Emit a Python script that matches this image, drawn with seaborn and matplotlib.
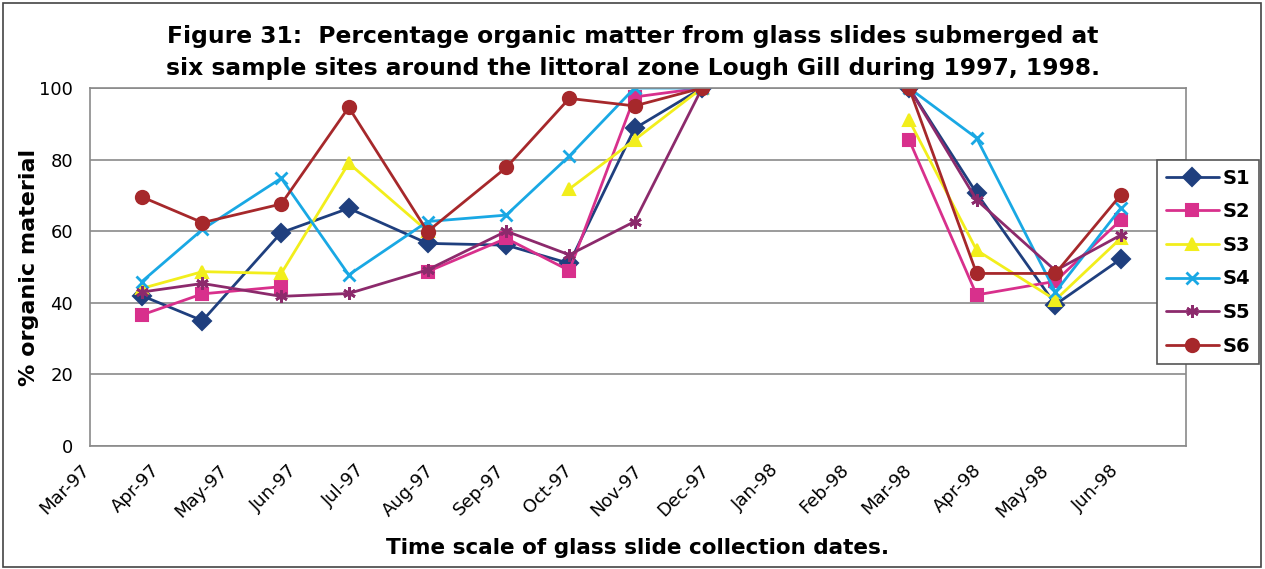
import matplotlib
matplotlib.use("Agg")
import matplotlib.pyplot as plt
import matplotlib.dates as mdates
import matplotlib.transforms as mtransforms
from matplotlib.patches import Rectangle
from matplotlib.lines import Line2D
from matplotlib.ticker import FuncFormatter
import numpy as np
import pandas as pd
import seaborn as sns

# ---- data -------------------------------------------------------------
dates = ["1997-03-24", "1997-04-20", "1997-05-25", "1997-06-24", "1997-07-29",
         "1997-09-02", "1997-09-30", "1997-10-29", "1997-11-28", "1998-01-15",
         "1998-02-28", "1998-03-30", "1998-05-04", "1998-06-02"]
S1 = [42, 35, 59.6, 66.4, 56.6, 56.1, 51, 88.7, 100, None, 100, 70.6, 39.5, 52.2]
S2 = [36.6, 42.5, 44.5, None, 48.7, 58, 49, 97.5, 100, None, 85.5, 42.2, 46, 63.1]
S3 = [44, 48.7, 48.2, 79, 60, None, 71.8, 85.5, 100, None, 91, 54.7, 40.8, 58]
S4 = [45.9, 60.5, 74.8, 47.8, 62.7, 64.5, 81, 100, 100, None, 100, 86, 43, 66.4]
S5 = [43, 45.4, 41.8, 42.6, 49.2, 60, 53.4, 62.7, 100, None, 100, 68.7, 49, 58.9]
S6 = [69.6, 62.4, 67.6, 94.6, 59.9, 77.8, 97.1, 95, 100, None, 100, 48.2, 48.2, 70.1]
series_names = ["S1", "S2", "S3", "S4", "S5", "S6"]
series_values = [S1, S2, S3, S4, S5, S6]
colors = ["#1f3f7e", "#d8308c", "#f2ee1c", "#19a8e4", "#8c2a6c", "#a6282b"]
markers = ["D", "s", "^", "x", (6, 2, 0), "o"]
last_label = "1998-06-01"
title = ("Figure 31:  Percentage organic matter from glass slides submerged at\n"
         "six sample sites around the littoral zone Lough Gill during 1997, 1998.")
xlabel = "Time scale of glass slide collection dates."
ylabel = "% organic material"

# ---- long-form table with segments (blank cells break the line) -------
rows = []
for name, vals in zip(series_names, series_values):
    seg = 0
    prev_missing = False
    for d, v in zip(dates, vals):
        if v is None:
            prev_missing = True
            continue
        if prev_missing:
            seg += 1
            prev_missing = False
        rows.append({"date": pd.Timestamp(d), "value": v, "site": name,
                     "seg": f"{name}-{seg}"})
df = pd.DataFrame(rows)

sns.set_style("white")
plt.rcParams["font.family"] = ["DejaVu Sans"]
plt.rcParams["text.color"] = "black"
plt.rcParams["axes.labelcolor"] = "black"

fig = plt.figure(figsize=(12.65, 5.69), dpi=100)
ax = fig.add_axes([0.0711, 0.2162, 0.9375 - 0.0711, 0.8453 - 0.2162])

handles = []
for name, col, mk in zip(series_names, colors, markers):
    sub = df[df["site"] == name]
    n_before = len(ax.lines)
    ms = 9.5 if mk == "o" else 9
    sns.lineplot(data=sub, x="date", y="value", units="seg", estimator=None,
                 sort=True, color=col, marker=mk, linewidth=2, markersize=ms,
                 ax=ax, legend=False)
    mew = 2 if mk == "x" or mk == (6, 2, 0) else 1.5
    for ln in ax.lines[n_before:]:
        ln.set_markeredgecolor(col)
        ln.set_markerfacecolor(col)
        ln.set_markeredgewidth(mew)
    handles.append(Line2D([], [], color=col, marker=mk, linewidth=2,
                          markersize=ms, markeredgecolor=col,
                          markerfacecolor=col, markeredgewidth=mew))

leg = fig.legend(handles, series_names, loc="upper left",
                 bbox_to_anchor=(0.915, 0.719), frameon=True, fancybox=False,
                 edgecolor="#555555", framealpha=1,
                 prop={"weight": "bold", "size": 14},
                 handlelength=2.7, handletextpad=0.2, labelspacing=0.75,
                 borderpad=0.45, borderaxespad=0)
leg.get_frame().set_linewidth(1.2)

# axes styling
ax.set_ylim(0, 100)
ax.set_yticks([0, 20, 40, 60, 80, 100])
ax.set_xlim(pd.Timestamp("1997-03-01"), pd.Timestamp("1998-07-01"))
ax.xaxis.set_major_locator(mdates.MonthLocator(bymonthday=1))
ax.xaxis.set_minor_locator(mdates.MonthLocator(bymonthday=16))
limit = mdates.date2num(pd.Timestamp(last_label))
ax.xaxis.set_major_formatter(FuncFormatter(
    lambda v, p: "" if v > limit + 0.5 else mdates.num2date(v).strftime("%b-%y")))
ax.tick_params(axis="x", which="both", direction="inout", length=8,
               width=1, color="#888888", labelsize=13, pad=7, labelcolor="black")
ax.tick_params(axis="y", which="major", direction="out", length=6,
               width=1, color="#888888", labelsize=13, pad=6, labelcolor="black")
offset = mtransforms.ScaledTranslation(-9 / 100, 0, fig.dpi_scale_trans)
for lab in ax.get_xticklabels():
    lab.set_rotation(45)
    lab.set_ha("right")
    lab.set_va("top")
    lab.set_rotation_mode("anchor")
    lab.set_transform(lab.get_transform() + offset)
ax.grid(True, axis="y", color="#8a8a8a", linewidth=1.2)
ax.grid(False, axis="x")
for sp in ax.spines.values():
    sp.set_color("#8a8a8a")
    sp.set_linewidth(1.2)
ax.set_xlabel(xlabel, fontsize=15.5, fontweight="bold", labelpad=12)
ax.set_ylabel(ylabel, fontsize=16, fontweight="bold", labelpad=0)
fig.suptitle(title, fontsize=16.8, fontweight="bold", y=0.956, va="top",
             linespacing=1.5)

fig.patches.append(Rectangle((0.002, 0.004), 0.995, 0.99, transform=fig.transFigure,
                             fill=False, edgecolor="#444444", linewidth=1.2))

fig.savefig("out.png", dpi=100)
